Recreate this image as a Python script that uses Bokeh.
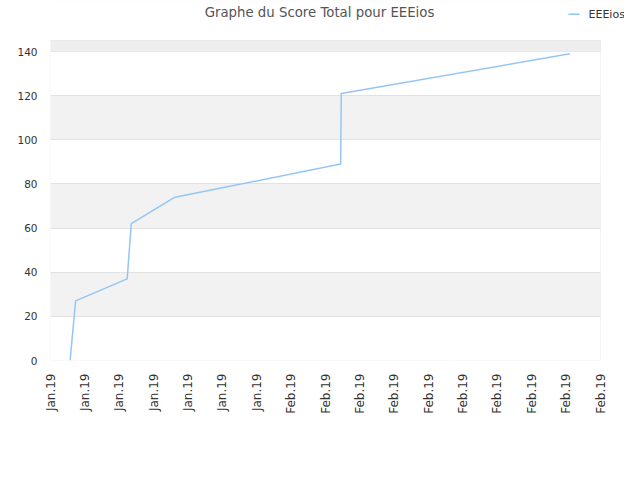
from bokeh.plotting import figure
from bokeh.models import FixedTicker, BoxAnnotation, Label, Range1d
from bokeh.embed import file_html
from bokeh.resources import INLINE

# data (x in tick-index units along the time axis)
x_pos = [0.57, 0.73, 2.23, 2.35, 3.62, 8.44, 8.46, 15.11]
scores = [0, 27, 37, 62, 74, 89, 121, 139]
x_tick_labels = ["Jan.19"] * 7 + ["Feb.19"] * 10
y_ticks = [0, 20, 40, 60, 80, 100, 120, 140]
y_top = 145
series_name = "EEEios"
title_text = "Graphe du Score Total pour EEEios"

# layout: the frame spans the whole upper area so title/legend can sit inside it
W, H = 624, 464
LEFT, BOTTOM = 50, 104
PLOT_W, PLOT_H = 550, 320            # visible plot box size in px
frame_w, frame_h = W - LEFT, H - BOTTOM
x_last = len(x_tick_labels) - 1
x_end = x_last * frame_w / PLOT_W
y_end = y_top * frame_h / PLOT_H

p = figure(width=W, height=H, output_backend="svg", toolbar_location=None,
           x_range=Range1d(0, x_end), y_range=Range1d(0, y_end),
           min_border_left=LEFT, min_border_right=0, min_border_top=0, min_border_bottom=BOTTOM)

p.outline_line_color = None
p.background_fill_color = "white"
p.border_fill_color = "white"

p.xgrid.grid_line_color = None
p.ygrid.grid_line_color = "#e2e2e2"
p.ygrid.band_fill_color = "#f2f2f2"
p.ygrid.band_fill_alpha = 1.0
p.ygrid.ticker = FixedTicker(ticks=y_ticks)

# mask grid outside the plot box (right side and above the top)
p.add_layout(BoxAnnotation(left=x_last, fill_color="white", fill_alpha=1.0,
                           line_color=None, level="underlay"))
p.add_layout(BoxAnnotation(bottom=y_top, fill_color="white", fill_alpha=1.0,
                           line_color=None, level="underlay"))
# top partial band
p.add_layout(BoxAnnotation(left=0, right=x_last, bottom=y_ticks[-1], top=y_top,
                           fill_color="#eeeeee", fill_alpha=1.0, line_color=None, level="underlay"))
# plot box outline
p.add_layout(BoxAnnotation(left=0, right=x_last, bottom=0, top=y_top,
                           fill_alpha=0, line_color="#d6d6d6", line_width=1, level="underlay"))

p.xaxis.ticker = FixedTicker(ticks=list(range(len(x_tick_labels))))
p.xaxis.major_label_overrides = {i: t for i, t in enumerate(x_tick_labels)}
p.xaxis.major_label_orientation = 1.5708
p.yaxis.ticker = FixedTicker(ticks=y_ticks)
for ax in (p.xaxis, p.yaxis):
    ax.axis_line_color = None
    ax.major_tick_line_color = None
    ax.minor_tick_line_color = None
    ax.major_label_text_font = "DejaVu Sans"
    ax.major_label_text_color = "#333333"
p.xaxis.major_label_text_font_size = "12px"
p.yaxis.major_label_text_font_size = "10.5px"
p.xaxis.major_label_standoff = 7
p.yaxis.major_label_standoff = 7

r = p.line(x_pos, scores, line_color="#94c6f5", line_width=1.5)

# title and legend, in screen px relative to the frame's bottom-left
p.add_layout(Label(x=269, y=348, x_units="screen", y_units="screen", text=title_text,
                   text_font="DejaVu Sans", text_font_size="13.3px", text_color="#555555",
                   text_align="center", text_baseline="middle"))
p.add_layout(Label(x=538, y=346.5, x_units="screen", y_units="screen", text=series_name,
                   text_font="DejaVu Sans", text_font_size="11px", text_color="#333333",
                   text_align="left", text_baseline="middle"))
p.add_layout(BoxAnnotation(left=518, right=529, bottom=345.5, top=347,
                           left_units="screen", right_units="screen",
                           bottom_units="screen", top_units="screen",
                           fill_color="#94c6f5", fill_alpha=1.0, line_color=None))

open("out.html", "w").write(file_html(p, INLINE))
